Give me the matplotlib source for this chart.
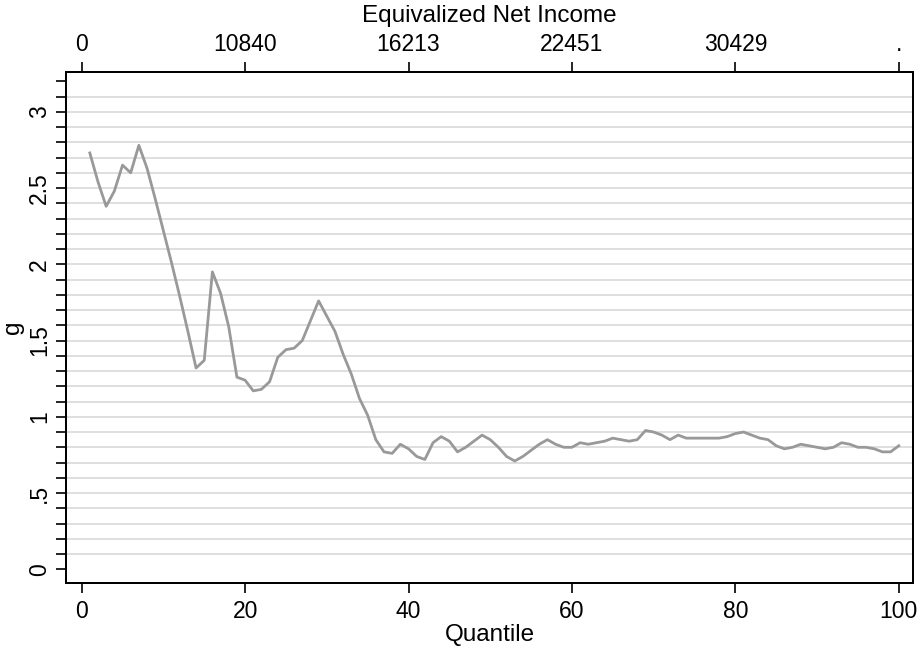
import matplotlib
matplotlib.use("Agg")
import matplotlib.pyplot as plt
import numpy as np

plt.rcParams['font.family'] = ['Liberation Sans', 'DejaVu Sans']

quantile = list(range(1, 101))
g = [2.73, 2.54, 2.38, 2.48, 2.65, 2.60, 2.78, 2.63, 2.43, 2.22,
     2.01, 1.79, 1.56, 1.32, 1.37, 1.95, 1.81, 1.59, 1.26, 1.24,
     1.17, 1.18, 1.23, 1.39, 1.44, 1.45, 1.50, 1.63, 1.76, 1.66,
     1.56, 1.41, 1.28, 1.12, 1.01, 0.85, 0.77, 0.76, 0.82, 0.79,
     0.74, 0.72, 0.83, 0.87, 0.84, 0.77, 0.80, 0.84, 0.88, 0.85,
     0.80, 0.74, 0.71, 0.74, 0.78, 0.82, 0.85, 0.82, 0.80, 0.80,
     0.83, 0.82, 0.83, 0.84, 0.86, 0.85, 0.84, 0.85, 0.91, 0.90,
     0.88, 0.85, 0.88, 0.86, 0.86, 0.86, 0.86, 0.86, 0.87, 0.89,
     0.90, 0.88, 0.86, 0.85, 0.81, 0.79, 0.80, 0.82, 0.81, 0.80,
     0.79, 0.80, 0.83, 0.82, 0.80, 0.80, 0.79, 0.77, 0.77, 0.81]

top_tick_pos = [0, 20, 40, 60, 80, 100]
top_tick_labels = ['0', '10840', '16213', '22451', '30429', '.']
y_major = [0, 0.5, 1, 1.5, 2, 2.5, 3]
y_major_labels = ['0', '.5', '1', '1.5', '2', '2.5', '3']

fig = plt.figure(figsize=(9.19, 6.48), dpi=100)
ax = fig.add_axes([0.0721, 0.0998, 0.9211, 0.7896])

grid_levels = np.round(np.arange(0.1, 3.15, 0.1), 2)
for lv in grid_levels:
    ax.axhline(lv, color='#dcdcdc', lw=1.3, zorder=0)

ax.plot(quantile, g, color='#999999', lw=2.0, zorder=2)

ax.set_xlim(-1.885, 101.71)
ax.set_ylim(-0.092, 3.263)

ax.set_xticks([0, 20, 40, 60, 80, 100])
ax.set_yticks(y_major)
ax.set_yticklabels(y_major_labels, rotation=90, va='center')
ax.set_yticks(np.round(np.arange(0, 3.25, 0.1), 2), minor=True)

fs = 16.5
fl = 17.5
ax.tick_params(axis='both', which='both', length=7, width=1.2, labelsize=fs, color='black')
ax.tick_params(axis='y', pad=4)
ax.tick_params(axis='x', pad=5)
for s in ax.spines.values():
    s.set_linewidth(1.4)

ax.set_xlabel('Quantile', fontsize=fl, labelpad=1)
ax.set_ylabel('g', fontsize=fl, labelpad=3)

ax2 = ax.twiny()
ax2.set_xlim(ax.get_xlim())
ax2.set_xticks(top_tick_pos)
ax2.set_xticklabels(top_tick_labels)
ax2.tick_params(axis='x', length=7, width=1.2, labelsize=fs, pad=4)
ax2.set_xlabel('Equivalized Net Income', fontsize=fl, labelpad=-1)
ax2.xaxis.set_label_coords(0.5, 1.0 + 56 / 511.7)
ax2.xaxis.label.set_va('center')
for s in ax2.spines.values():
    s.set_linewidth(1.4)

fig.savefig('out.png', dpi=100)
